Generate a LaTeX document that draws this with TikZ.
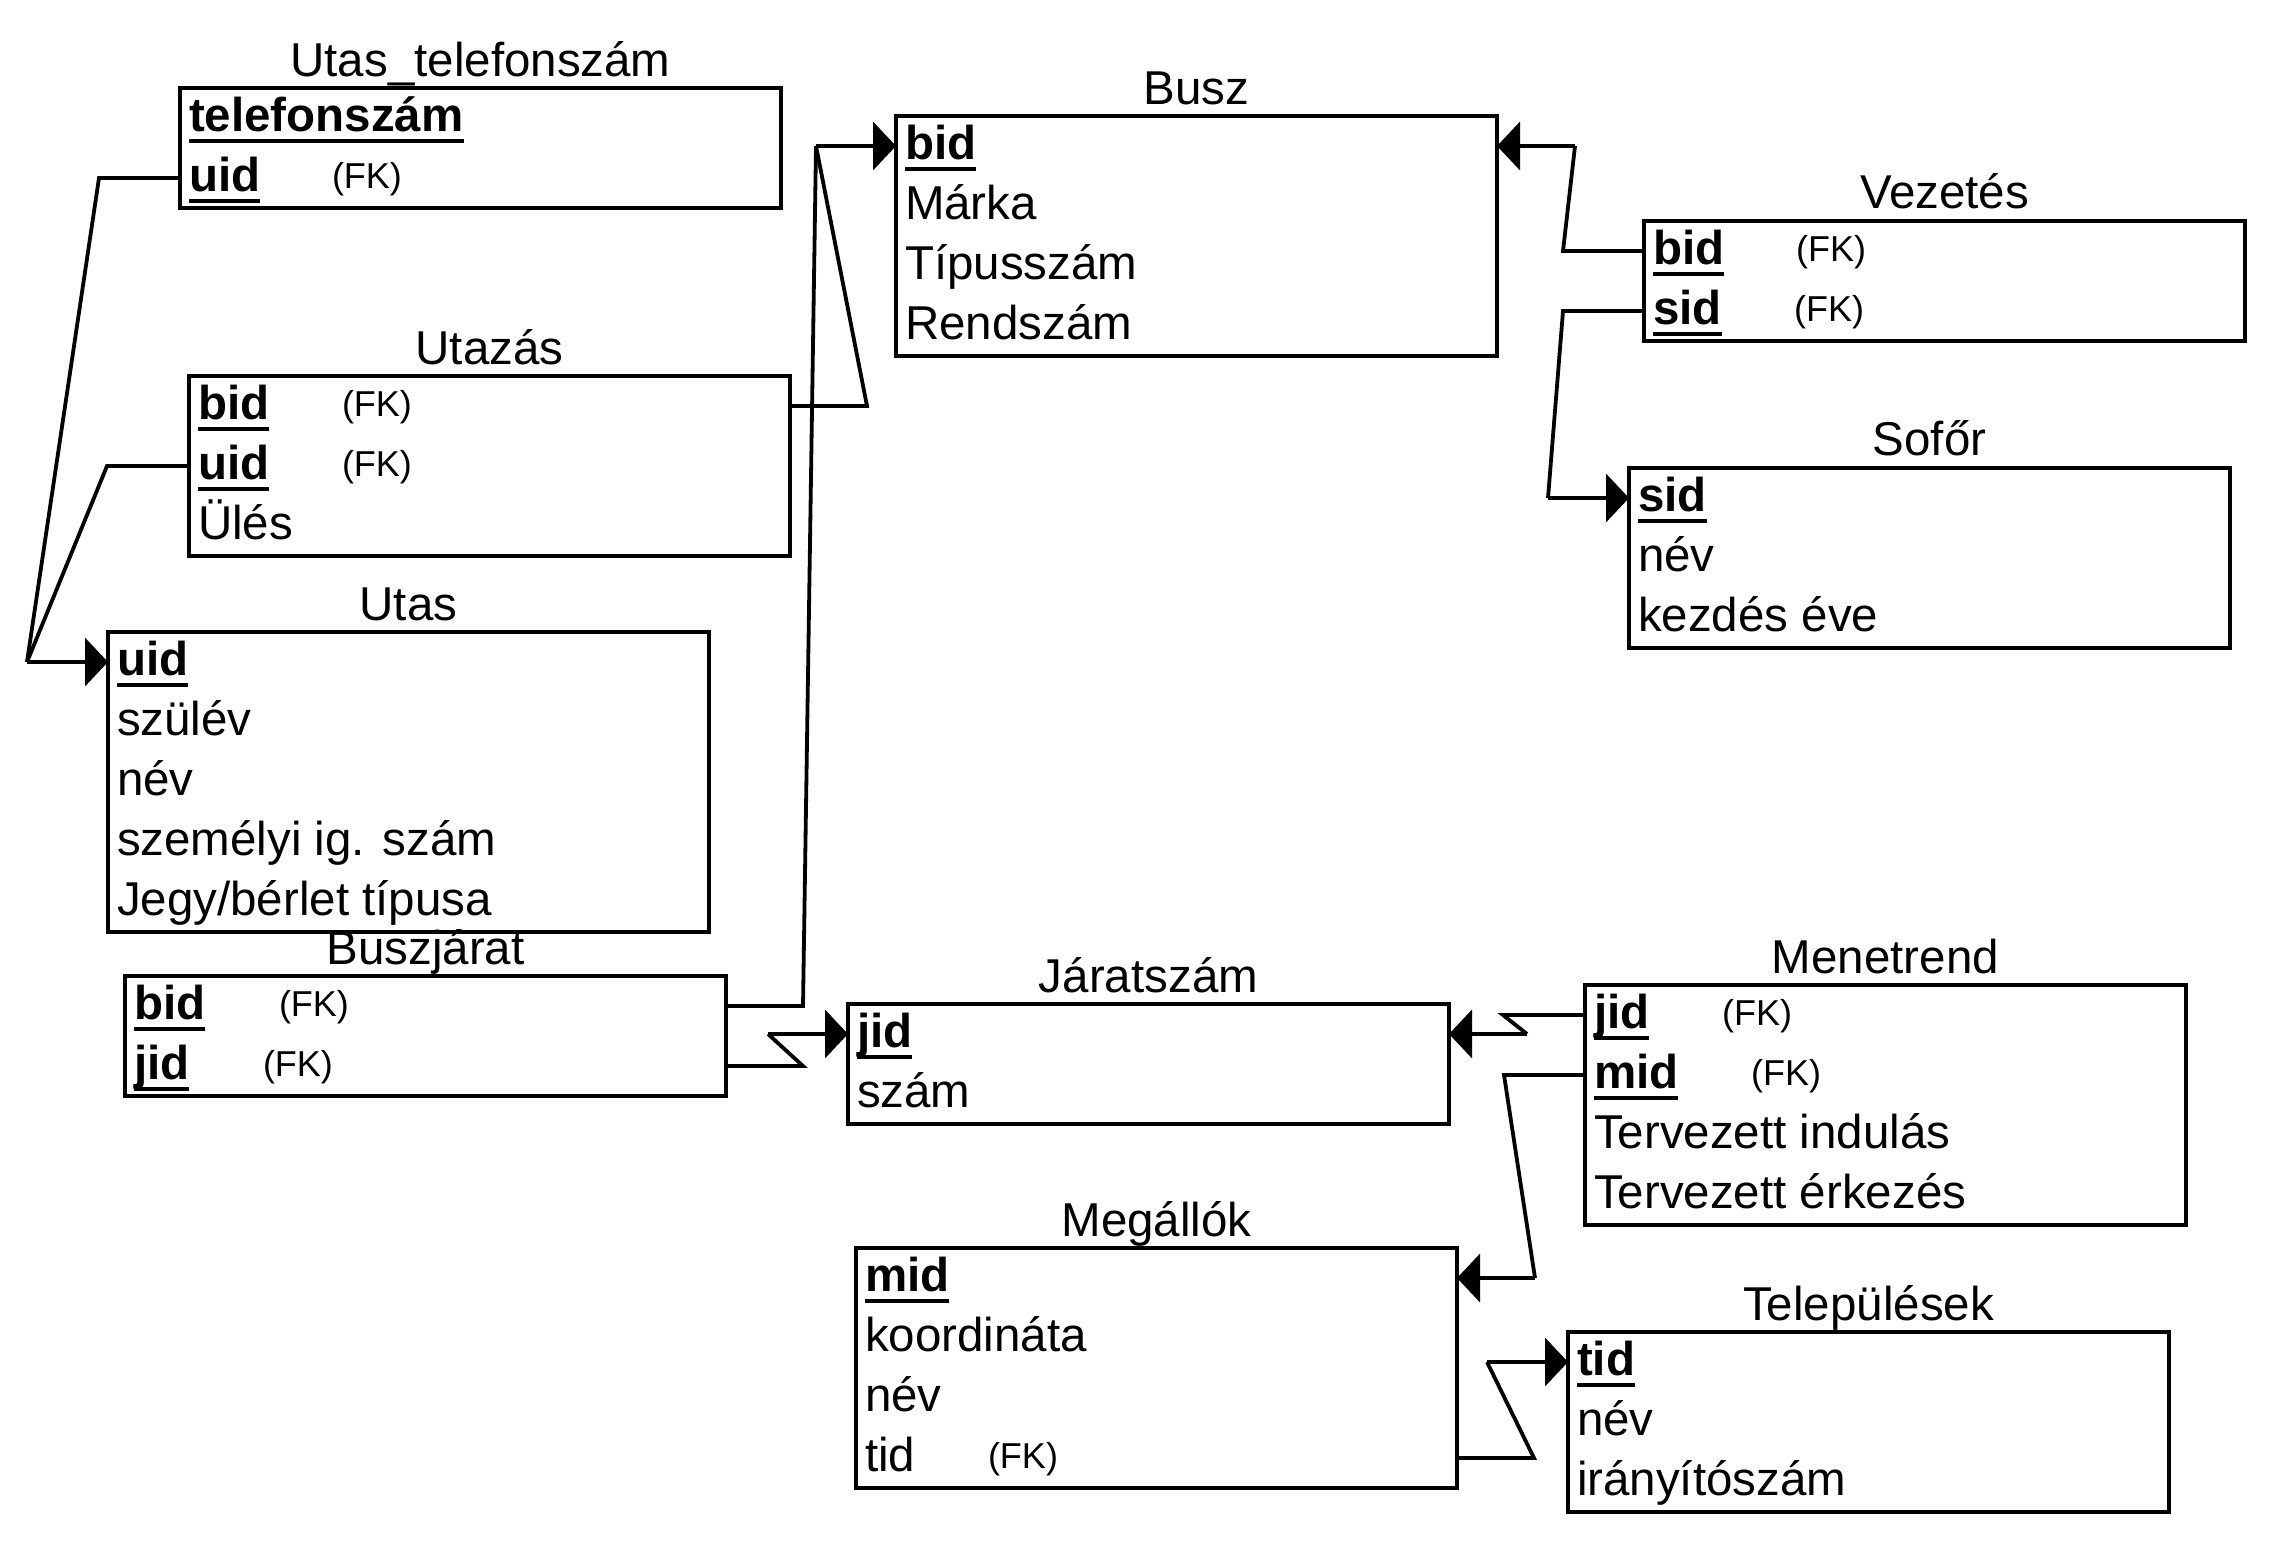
\documentclass[tikz,border=0pt]{standalone}
\usepackage{fontspec}
\setmainfont{Liberation Sans}
\usetikzlibrary{arrows.meta,calc,fit}
\newcommand\pk[1]{\setbox0\hbox{\bfseries #1}\rlap{\rule[-12pt]{\wd0}{4pt}}\box0}
\newcommand\fkat[1]{\rlap{\hspace{#1pt}\raisebox{3pt}{\fontsize{36}{40}\selectfont(FK)}}}
\newcommand\rb[1]{\makebox[583pt][l]{#1}}
\begin{document}
\begin{tikzpicture}[x=1pt,y=-1pt,font=\fontsize{47.5}{57}\selectfont,
  row/.style={anchor=north west,inner xsep=9pt,inner ysep=0pt,text height=43pt,text depth=17pt,outer sep=0pt},
  tbl/.style={draw,line width=4.2pt,inner sep=0pt},
  ttl/.style={anchor=base,inner sep=0pt},
  rel/.style={line width=3.8pt},
  fkarrow/.style={rel,-{Triangle[length=23pt,width=48pt]}}]
\fill[white] (0,0) rectangle (2272,1540);
\useasboundingbox (0,0) rectangle (2272,1540);

% Utas_telefonszam
\node[row] (ut-tel) at (180,88) {\rb{\pk{telefonszám}}};
\node[row] (ut-uid) at (ut-tel.south west) {\rb{\fkat{143}\pk{uid}}};
\node[tbl,fit=(ut-tel)(ut-uid)] (ut) {};
\node[ttl] (ut-t) at ([yshift=9pt]ut.north) {Utas\_telefonszám};

% Utazas
\node[row] (uz-bid) at (189,376) {\rb{\fkat{144}\pk{bid}}};
\node[row] (uz-uid) at (uz-bid.south west) {\rb{\fkat{144}\pk{uid}}};
\node[row] (uz-ules) at (uz-uid.south west) {\rb{Ülés}};
\node[tbl,fit=(uz-bid)(uz-ules)] (uz) {};
\node[ttl] (uz-t) at ([yshift=9pt]uz.north) {Utazás};

% Utas
\node[row] (us-uid) at (108,632) {\rb{\pk{uid}}};
\node[row] (us-szul) at (us-uid.south west) {\rb{szülév}};
\node[row] (us-nev) at (us-szul.south west) {\rb{név}};
\node[row] (us-szig) at (us-nev.south west) {\rb{személyi ig. szám}};
\node[row] (us-jegy) at (us-szig.south west) {\rb{Jegy/bérlet típusa}};
\node[tbl,fit=(us-uid)(us-jegy)] (us) {};
\node[ttl] (us-t) at ([yshift=9pt]us.north) {Utas};

% Buszjarat
\node[row] (bj-bid) at (125,976) {\rb{\fkat{145}\pk{bid}}};
\node[row] (bj-jid) at (bj-bid.south west) {\rb{\fkat{129}\pk{jid}}};
\node[tbl,fit=(bj-bid)(bj-jid)] (bj) {};
\node[ttl] (bj-t) at ([yshift=9pt]bj.north) {Buszjárat};

% Busz
\node[row] (bu-bid) at (896,116) {\rb{\pk{bid}}};
\node[row] (bu-marka) at (bu-bid.south west) {\rb{Márka}};
\node[row] (bu-tipus) at (bu-marka.south west) {\rb{Típusszám}};
\node[row] (bu-rend) at (bu-tipus.south west) {\rb{Rendszám}};
\node[tbl,fit=(bu-bid)(bu-rend)] (bu) {};
\node[ttl] (bu-t) at ([yshift=9pt]bu.north) {Busz};

% Vezetes
\node[row] (vz-bid) at (1644,221) {\rb{\fkat{143}\pk{bid}}};
\node[row] (vz-sid) at (vz-bid.south west) {\rb{\fkat{141}\pk{sid}}};
\node[tbl,fit=(vz-bid)(vz-sid)] (vz) {};
\node[ttl] (vz-t) at ([yshift=10pt]vz.north) {Vezetés};

% Sofor
\node[row] (so-sid) at (1629,468) {\rb{\pk{sid}}};
\node[row] (so-nev) at (so-sid.south west) {\rb{név}};
\node[row] (so-kezd) at (so-nev.south west) {\rb{kezdés éve}};
\node[tbl,fit=(so-sid)(so-kezd)] (so) {};
\node[ttl] (so-t) at ([yshift=10pt]so.north) {Sofőr};

% Jaratszam
\node[row] (js-jid) at (848,1004) {\rb{\pk{jid}}};
\node[row] (js-szam) at (js-jid.south west) {\rb{szám}};
\node[tbl,fit=(js-jid)(js-szam)] (js) {};
\node[ttl] (js-t) at ([yshift=9pt]js.north) {Járatszám};

% Menetrend
\node[row] (mt-jid) at (1585,985) {\rb{\fkat{128}\pk{jid}}};
\node[row] (mt-mid) at (mt-jid.south west) {\rb{\fkat{157}\pk{mid}}};
\node[row] (mt-ind) at (mt-mid.south west) {\rb{Tervezett indulás}};
\node[row] (mt-erk) at (mt-ind.south west) {\rb{Tervezett érkezés}};
\node[tbl,fit=(mt-jid)(mt-erk)] (mt) {};
\node[ttl] (mt-t) at ([yshift=9pt]mt.north) {Menetrend};

% Megallok
\node[row] (mg-mid) at (856,1248) {\rb{\pk{mid}}};
\node[row] (mg-koord) at (mg-mid.south west) {\rb{koordináta}};
\node[row] (mg-nev) at (mg-koord.south west) {\rb{név}};
\node[row] (mg-tid) at (mg-nev.south west) {\rb{\fkat{123}tid}};
\node[tbl,fit=(mg-mid)(mg-tid)] (mg) {};
\node[ttl] (mg-t) at ([yshift=9pt]mg.north) {Megállók};

% Telepulesek
\node[row] (tp-tid) at (1568,1332) {\rb{\pk{tid}}};
\node[row] (tp-nev) at (tp-tid.south west) {\rb{név}};
\node[row] (tp-irsz) at (tp-nev.south west) {\rb{irányítószám}};
\node[tbl,fit=(tp-tid)(tp-irsz)] (tp) {};
\node[ttl] (tp-t) at ([yshift=9pt]tp.north) {Települések};

% connectors
\coordinate (j1) at ($(us-uid.west)+(-81,0)$);
\draw[rel] (ut-uid.west) -- ++(-81,0) -- (j1);
\draw[rel] (uz-uid.west) -- ++(-82,0) -- (j1);
\draw[fkarrow] (j1) -- (us-uid.west);

\coordinate (j2) at ($(bu-bid.west)+(-80,0)$);
\draw[rel] (uz-bid.east) -- ++(77,0) -- (j2);
\draw[rel] (bj-bid.east) -- ++(77,0) -- (j2);
\draw[fkarrow] (j2) -- (bu-bid.west);

\draw[rel] (bj-jid.east) -- ++(77,0) -- ($(js-jid.west)+(-80,0)$) coordinate (j3);
\draw[fkarrow] (j3) -- (js-jid.west);

\draw[rel] (vz-bid.west) -- ++(-81,0) -- ($(bu-bid.east)+(78,0)$) coordinate (j4);
\draw[fkarrow] (j4) -- (bu-bid.east);

\draw[rel] (vz-sid.west) -- ++(-81,0) -- ($(so-sid.west)+(-81,0)$) coordinate (j5);
\draw[fkarrow] (j5) -- (so-sid.west);

\draw[rel] (mt-jid.west) -- ++(-82,0) -- ($(js-jid.east)+(78,0)$) coordinate (j6);
\draw[fkarrow] (j6) -- (js-jid.east);

\draw[rel] (mt-mid.west) -- ++(-81,0) -- ($(mg-mid.east)+(78,0)$) coordinate (j7);
\draw[fkarrow] (j7) -- (mg-mid.east);

\draw[rel] (mg-tid.east) -- ++(77,0) -- ($(tp-tid.west)+(-81,0)$) coordinate (j8);
\draw[fkarrow] (j8) -- (tp-tid.west);
\end{tikzpicture}
\end{document}
